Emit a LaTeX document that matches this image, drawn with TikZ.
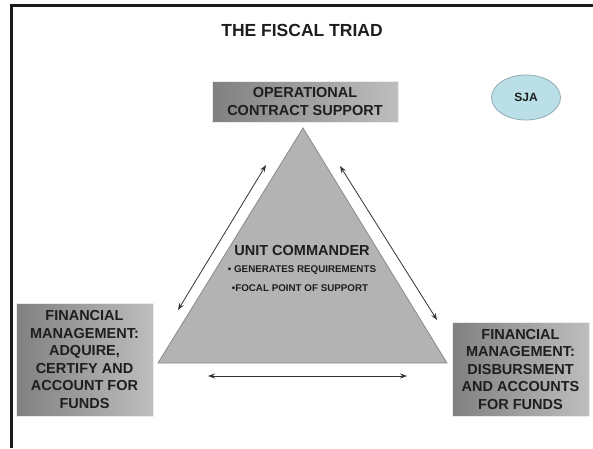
\documentclass[tikz,border=0pt]{standalone}
\usepackage{fontspec}
\setmainfont{Liberation Sans}
\usetikzlibrary{arrows.meta,shapes.geometric}
\definecolor{boxdark}{HTML}{808080}
\definecolor{boxlight}{HTML}{BEBEBE}
\definecolor{trifill}{HTML}{B3B3B3}
\definecolor{triedge}{HTML}{8A8A8A}
\definecolor{sjafill}{HTML}{BADFE6}
\definecolor{sjaedge}{HTML}{90ABB2}
\definecolor{frameclr}{HTML}{1A1A1A}
\definecolor{arrowclr}{HTML}{333333}
\definecolor{txt}{HTML}{1E1E1E}
\tikzset{
  gbox/.style={rectangle, inner sep=0pt, left color=boxdark, right color=boxlight,
    draw=white!85!gray, line width=0.6pt, align=center, text=txt,
    font=\bfseries\fontsize{14.5}{17.5}\selectfont},
  link/.style={draw=arrowclr, line width=0.8pt, {Stealth[length=7pt,width=5pt]}-{Stealth[length=7pt,width=5pt]}},
  frameline/.style={draw=frameclr, line width=3pt},
}
\begin{document}
\begin{tikzpicture}[x=1pt,y=-1pt]
\useasboundingbox (0,0) rectangle (593,448);
% partial frame
\coordinate (fTL) at (11,5);
\coordinate (fBL) at (11,448);
\coordinate (fTR) at (593,5);
\draw[frameline] (fBL) -- (fTL) -- (fTR);
% title
\node[font=\bfseries\fontsize{17.5}{20}\selectfont, text=txt] (title) at (302,30) {THE FISCAL TRIAD};
% triangle
\coordinate (apex) at (303,128);
\coordinate (bl) at (158,363);
\coordinate (br) at (447,363);
\draw[fill=trifill, draw=triedge, line width=0.8pt] (apex) -- (bl) -- (br) -- cycle;
\node[font=\bfseries\fontsize{14.5}{17}\selectfont, text=txt] (uc) at (302,250) {UNIT COMMANDER};
\node[font=\bfseries\fontsize{9.8}{12}\selectfont, text=txt] (b1) at (302,270) {• GENERATES REQUIREMENTS};
\node[font=\bfseries\fontsize{9.8}{12}\selectfont, text=txt] (b2) at (300,288) {•FOCAL POINT OF SUPPORT};
% boxes
\node[gbox, minimum width=186pt, minimum height=41pt] (ocs) at (305,101.5) {OPERATIONAL\\CONTRACT SUPPORT};
\node[gbox, minimum width=137pt, minimum height=113pt] (fml) at (84.5,359.5) {FINANCIAL\\MANAGEMENT:\\ADQUIRE,\\CERTIFY AND\\ACCOUNT FOR\\FUNDS};
\node[gbox, minimum width=137pt, minimum height=94pt] (fmr) at (520.5,369) {FINANCIAL\\MANAGEMENT:\\DISBURSMENT\\AND ACCOUNTS\\FOR FUNDS};
% SJA
\node[ellipse, fill=sjafill, draw=sjaedge, line width=0.8pt, minimum width=69pt, minimum height=45pt, inner sep=0pt,
  text=txt, font=\bfseries\fontsize{12}{14}\selectfont] (sja) at (526,97.5) {SJA};
% arrows
\coordinate (la1) at (266,165);
\coordinate (la2) at (178,310);
\coordinate (ra1) at (340,166);
\coordinate (ra2) at (437,320);
\coordinate (ba1) at (208,376);
\coordinate (ba2) at (407,376);
\draw[link] (la1) -- (la2);
\draw[link] (ra1) -- (ra2);
\draw[link] (ba1) -- (ba2);
\end{tikzpicture}
\end{document}
